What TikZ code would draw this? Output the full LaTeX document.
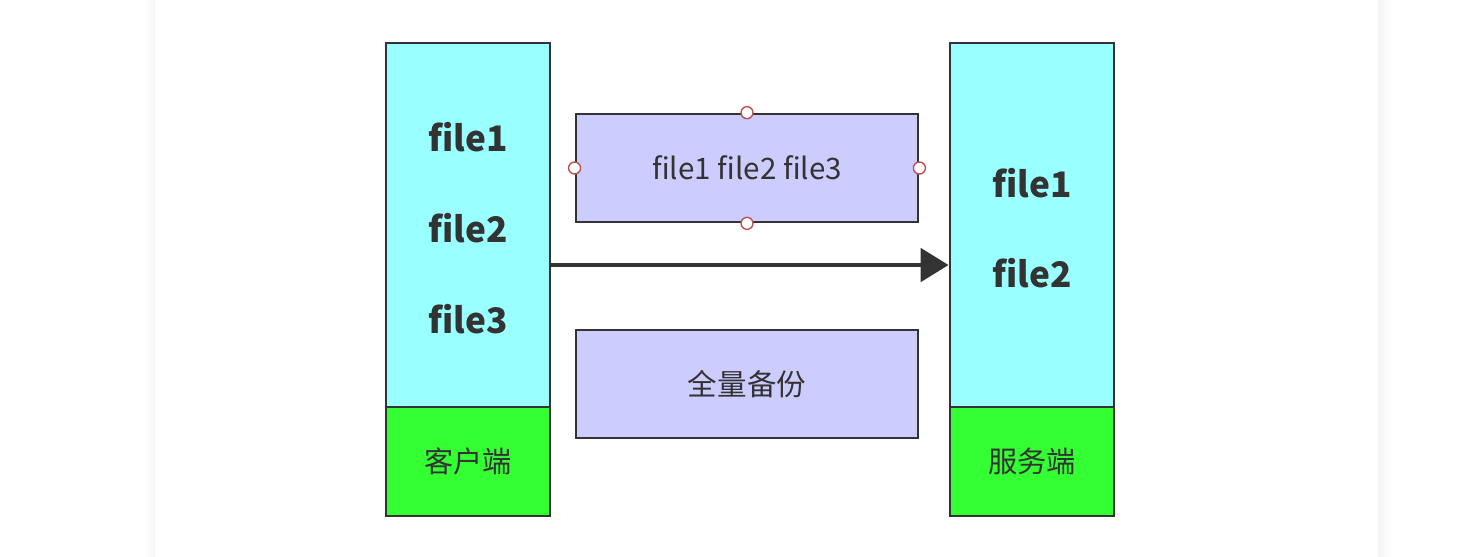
\documentclass[tikz,border=0pt]{standalone}
\usepackage{fontspec}
\setmainfont{Noto Sans CJK SC}
\usetikzlibrary{arrows.meta}
\definecolor{cyanfill}{HTML}{99FFFF}
\definecolor{greenfill}{HTML}{33FF33}
\definecolor{lilacfill}{HTML}{CCCCFF}
\definecolor{darkline}{HTML}{333333}
\definecolor{pinline}{HTML}{B85450}
\tikzset{
  col/.style={draw=darkline, line width=0.75pt, fill=cyanfill, minimum width=1.64cm, inner sep=0pt},
  fname/.style={text=darkline, font=\fontsize{10}{12}\selectfont\bfseries},
  foot/.style={draw=darkline, line width=0.75pt, fill=greenfill, minimum width=1.64cm, minimum height=1.09cm, inner sep=0pt, text=darkline, font=\fontsize{8.3}{10}\selectfont},
  msg/.style={draw=darkline, line width=0.75pt, fill=lilacfill, minimum width=3.42cm, minimum height=1.08cm, inner sep=0pt, text=darkline, font=\fontsize{8.4}{10}\selectfont},
  pin/.style={circle, draw=pinline, fill=white, line width=0.4pt, minimum size=0.12cm, inner sep=0pt}
}
\begin{document}
\begin{tikzpicture}[x=0.01cm, y=-0.01cm]
\useasboundingbox (0,0) rectangle (1469,556);
% panel shadow
\shade[left color=white, right color=black!4] (144,0) rectangle (155,556);
\shade[left color=black!4, right color=white] (1378,0) rectangle (1391,556);
% client side
\node[col, minimum height=3.64cm] (cbody) at (468,225) {};
\node[foot] (cfoot) at (468,461.5) {客户端};
\node[fname] (cf1) at (468,137) {file1};
\node[fname] (cf2) at (468,228) {file2};
\node[fname] (cf3) at (468,319) {file3};
% server side
\node[col, minimum height=3.64cm] (sbody) at (1032,225) {};
\node[foot] (sfoot) at (1032,461.5) {服务端};
\node[fname] (sf1) at (1032,183) {file1};
\node[fname] (sf2) at (1032,273) {file2};
% messages
\node[msg] (files) at (747,168) {file1 file2 file3};
\node[msg] (full) at (747,384) {全量备份};
\foreach \a in {north,south,east,west}
  \node[pin] (pin-\a) at (files.\a) {};
% transfer
\coordinate (mid) at (0,265);
\draw[darkline, line width=1.4pt, -{Triangle[length=0.28cm,width=0.33cm]}] (cbody.east |- mid) -- (sbody.west |- mid);
\end{tikzpicture}
\end{document}
